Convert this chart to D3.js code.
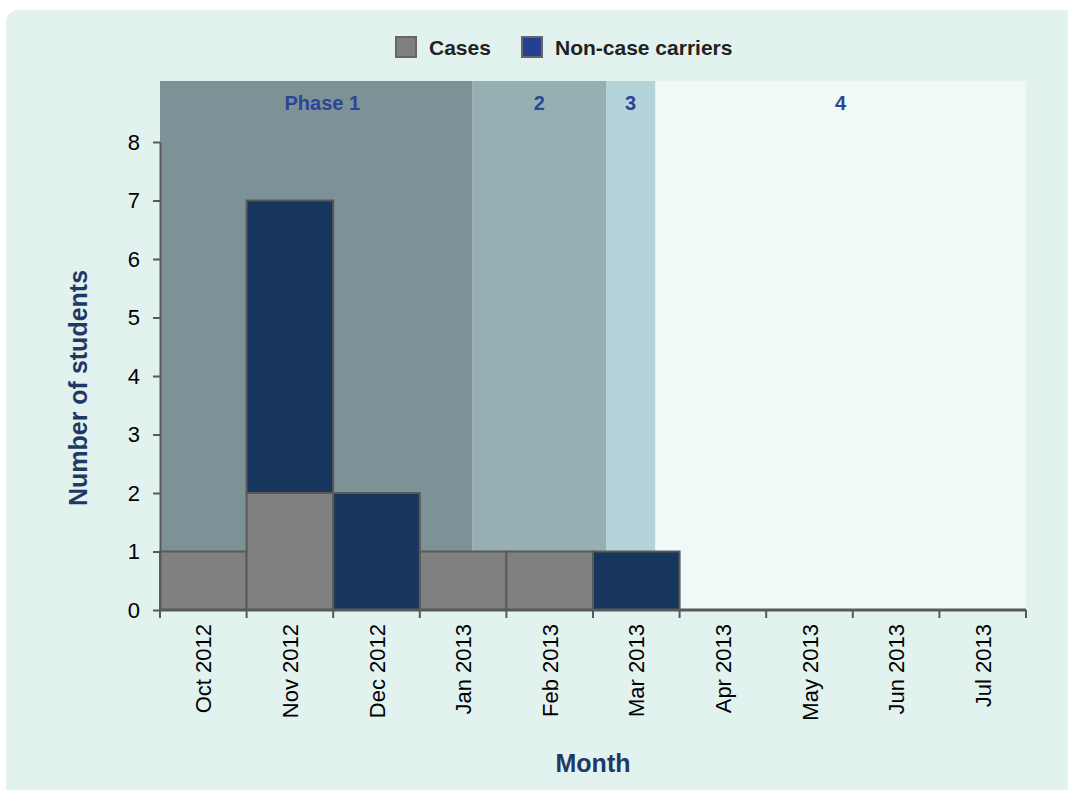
<!DOCTYPE html>
<html>
<head>
<meta charset="utf-8">
<script src="https://cdn.jsdelivr.net/npm/d3@7"></script>
<style>
  body { margin: 0; background: #fff; }
  svg { display: block; font-family: "Liberation Sans", Arial, sans-serif; }
</style>
</head>
<body>
<svg id="chart" width="1068" height="790"></svg>
<script>
// data
let months = ['Oct 2012', 'Nov 2012', 'Dec 2012', 'Jan 2013', 'Feb 2013',
  'Mar 2013', 'Apr 2013', 'May 2013', 'Jun 2013', 'Jul 2013'];
let cases = [1, 2, 0, 1, 1, 0, 0, 0, 0, 0];
let carriers = [0, 5, 2, 0, 0, 1, 0, 0, 0, 0];
let yTicks = [0, 1, 2, 3, 4, 5, 6, 7, 8];
// phases as [start, end] in month units from start of Oct 2012
let phaseNames = ['Phase 1', '2', '3', '4'];
let phaseStart = [0, 3.61, 5.15, 5.72];
let phaseEnd = [3.61, 5.15, 5.72, 10];
let phaseColors = ['#7d9297', '#96afb2', '#b4d4d9', '#f0f8f8'];

let svg = d3.select('#chart');
let margin = { top: 81, right: 42, bottom: 180, left: 160 };
let width = 1068, height = 790;

// panel behind everything
svg.append('rect')
  .attr('x', 6).attr('y', 10)
  .attr('width', width - 6 + 20).attr('height', height - 10 + 20)
  .attr('rx', 12)
  .attr('fill', '#e2f2ee');

let x = d3.scaleBand()
  .domain(months)
  .range([margin.left, width - margin.right])
  .padding(0);

let xm = d3.scaleLinear()
  .domain([0, months.length])
  .range([margin.left, width - margin.right]);

let y = d3.scaleLinear()
  .domain([0, 8])
  .range([610, 142]);

// phase bands
let phases = phaseNames.map((n, i) => ({ name: n, s: phaseStart[i], e: phaseEnd[i], c: phaseColors[i] }));
svg.append('g').selectAll('rect')
  .data(phases)
  .enter()
  .append('rect')
  .attr('x', d => xm(d.s))
  .attr('y', margin.top)
  .attr('width', d => xm(d.e) - xm(d.s))
  .attr('height', y(0) - margin.top)
  .attr('fill', d => d.c);

svg.append('g').selectAll('text')
  .data(phases)
  .enter()
  .append('text')
  .attr('x', (d, i) => (xm(d.s) + xm(d.e)) / 2 + (i == 0 ? 6 : 0))
  .attr('y', 110)
  .attr('text-anchor', 'middle')
  .attr('font-size', 20)
  .attr('font-weight', 'bold')
  .attr('fill', '#2b4597')
  .text(d => d.name);

// stacked bars
let stack = months.map((m, i) => ({ month: m, cases: cases[i], carriers: carriers[i] }));
let bars = svg.append('g');
bars.selectAll('rect.cases')
  .data(stack.filter(d => d.cases > 0))
  .enter()
  .append('rect')
  .attr('class', 'cases')
  .attr('x', d => x(d.month))
  .attr('y', d => y(d.cases))
  .attr('width', x.bandwidth())
  .attr('height', d => y(0) - y(d.cases))
  .attr('fill', '#808080')
  .attr('stroke', '#595959')
  .attr('stroke-width', 2);
bars.selectAll('rect.carriers')
  .data(stack.filter(d => d.carriers > 0))
  .enter()
  .append('rect')
  .attr('class', 'carriers')
  .attr('x', d => x(d.month))
  .attr('y', d => y(d.cases + d.carriers))
  .attr('width', x.bandwidth())
  .attr('height', d => y(d.cases) - y(d.cases + d.carriers))
  .attr('fill', '#17365d')
  .attr('stroke', '#595959')
  .attr('stroke-width', 2);

// y axis
let yAxis = svg.append('g')
  .attr('transform', `translate(${margin.left},0)`)
  .call(d3.axisLeft(y).tickValues(yTicks).tickSize(7).tickSizeOuter(0).tickPadding(13));
yAxis.select('.domain').attr('stroke', '#595959').attr('stroke-width', 2);
yAxis.selectAll('.tick line').attr('stroke', '#595959').attr('stroke-width', 2);
yAxis.selectAll('.tick text').attr('font-size', 22).attr('fill', '#000')
  .attr('font-family', '"Liberation Sans", Arial, sans-serif');

// x axis, ticks at band edges
let xAxis = svg.append('g')
  .attr('transform', `translate(0,${y(0)})`);
xAxis.append('line')
  .attr('x1', margin.left).attr('x2', width - margin.right)
  .attr('stroke', '#595959').attr('stroke-width', 3);
xAxis.selectAll('line.tk')
  .data(d3.range(months.length + 1))
  .enter()
  .append('line')
  .attr('class', 'tk')
  .attr('x1', d => xm(d)).attr('x2', d => xm(d))
  .attr('y1', 0).attr('y2', 8)
  .attr('stroke', '#595959').attr('stroke-width', 2);
xAxis.selectAll('text')
  .data(months)
  .enter()
  .append('text')
  .attr('transform', d => `translate(${x(d) + x.bandwidth() / 2 + 8},${14}) rotate(-90)`)
  .attr('text-anchor', 'end')
  .attr('font-size', 22)
  .attr('fill', '#000')
  .text(d => d);

// axis titles
svg.append('text')
  .attr('transform', 'translate(87,388) rotate(-90)')
  .attr('text-anchor', 'middle')
  .attr('font-size', 25)
  .attr('font-weight', 'bold')
  .attr('fill', '#1f3864')
  .text('Number of students');

svg.append('text')
  .attr('x', 593).attr('y', 772)
  .attr('text-anchor', 'middle')
  .attr('font-size', 25)
  .attr('font-weight', 'bold')
  .attr('fill', '#1f3864')
  .text('Month');

// legend
let legend = [{ name: 'Cases', c: '#808080', x: 396 }, { name: 'Non-case carriers', c: '#253f93', x: 522 }];
let lg = svg.append('g').selectAll('g')
  .data(legend)
  .enter()
  .append('g')
  .attr('transform', d => `translate(${d.x},37)`);
lg.append('rect')
  .attr('width', 20).attr('height', 20)
  .attr('fill', d => d.c)
  .attr('stroke', '#666').attr('stroke-width', 2);
lg.append('text')
  .attr('x', 33).attr('y', 18)
  .attr('font-size', 21)
  .attr('font-weight', 'bold')
  .attr('fill', '#222')
  .text(d => d.name);
</script>
</body>
</html>
